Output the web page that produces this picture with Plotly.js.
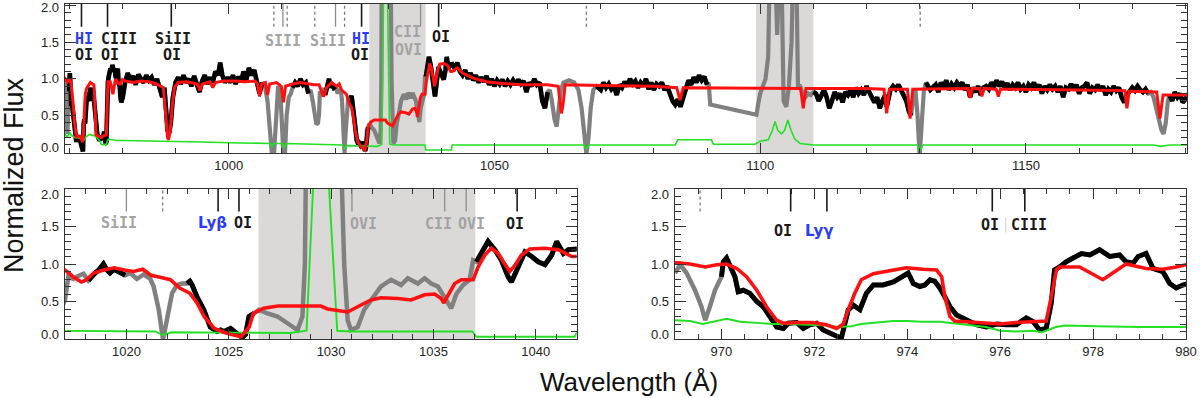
<!DOCTYPE html>
<html><head><meta charset="utf-8">
<script src="https://cdn.plot.ly/plotly-3.0.1.min.js"></script>
<style>html,body{margin:0;padding:0;background:#fff}#chart{width:1200px;height:398px}</style>
</head><body><div id="chart"></div>
<script>
// ---- spectrum (normalized flux) ----
const specWave = [
969.00,969.11,969.25,969.43,969.57,969.65,969.75,969.86,970.00,970.04,970.11,970.22,970.29,970.36,970.47,970.61,970.76,970.90,
971.04,971.19,971.33,971.44,971.62,971.76,971.90,972.05,972.19,972.33,972.48,972.58,972.73,972.84,972.98,973.12,973.27,973.48,
973.70,973.91,974.02,974.13,974.27,974.38,974.49,974.59,974.70,974.81,974.92,975.06,975.27,975.49,975.70,975.92,976.13,976.35,
976.56,976.71,976.85,976.99,977.10,977.17,977.28,977.42,977.57,977.75,977.93,978.14,978.36,978.57,978.71,978.86,978.97,979.14,
979.29,979.50,979.65,979.79,979.93,980.05,
980.5,981,981.5,982,982.5,983,983.5,984,984.5,985,985.5,986,986.5,987,987.5,987.9,988.2,988.5,988.8,989.1,989.5,990,990.5,991,
991.5,992,992.5,993,993.5,994,994.5,995,995.5,996,996.5,997,997.5,998,998.4,998.8,999.3,999.8,1000.3,1000.8,1001.3,1001.8,
1002.3,1002.8,1003.3,1003.8,1004.3,1004.8,1005.3,1005.8,1006.3,1006.8,1007.3,1007.7,1008.1,1008.5,1008.9,1009.3,1009.7,1010.0,
1010.3,1010.6,1010.9,1011.3,1011.7,1012.0,1012.5,1013,1013.5,1014,1014.5,1015,1015.4,1015.8,1016.2,1016.5,1016.8,
1017.00,1017.16,1017.40,1017.57,1017.90,1018.14,1018.30,1018.47,1018.65,1018.88,1019.05,1019.20,1019.40,1019.60,1019.80,1019.94,
1020.19,1020.51,1020.84,1021.17,1021.33,1021.58,1021.79,1021.98,1022.23,1022.47,1022.72,1022.96,1023.10,1023.21,1023.45,1023.78,
1024.10,1024.43,1024.60,1024.76,1025.09,1025.41,1025.66,1025.82,1025.99,1026.23,1026.48,1026.89,1027.38,1027.87,1028.19,1028.36,
1028.60,1028.72,1028.78,1030.48,1030.64,1030.81,1030.97,1031.30,1031.62,1032.10,1032.44,1032.93,1033.42,1033.75,1034.24,1034.57,
1034.89,1035.22,1035.55,1035.87,1036.12,1036.45,1036.77,1036.94,1037.10,1037.34,1037.67,1038.00,1038.32,1038.65,1038.81,1039.14,
1039.47,1039.80,1040.12,1040.45,1040.78,1041.02,1041.35,1041.59,1042.05,
1042.5,1043,1043.5,1044,1044.5,1045,1045.5,1046,1046.5,1047,1047.5,1048,1048.5,1049,1049.5,1050,1050.5,1051,1051.5,1052,1052.5,
1053,1053.5,1054,1054.5,1055,1055.5,1056,1056.5,1057,1057.5,1058,1058.5,1059,1059.5,1060,1060.4,1060.8,1061.3,1061.7,1062.1,
1062.5,1063,1064,1065,1065.8,1066.4,1066.9,1067.3,1067.7,1068.1,1068.6,1069.2,1070,1070.5,1071,1071.5,1072,1072.5,1073,1073.5,
1074,1074.5,1075,1075.5,1076,1076.5,1077,1077.5,1078,1078.5,1079,1079.5,1080,1080.5,1081,1081.5,1082,1082.5,1083,1083.5,1084,
1084.5,1085,1085.5,1086,1086.5,1087,1087.5,1088,1088.5,1089,1089.5,1090,1090.3,1090.6,1099.3,1099.6,1100,1100.5,1101,1101.5,
1101.8,1102.8,1103.2,1103.6,1104.0,1104.4,1104.9,1105.4,1105.9,1106.2,1106.8,1107.1,1107.5,1108,1108.5,1109,1109.5,1110,1110.5,
1111,1111.5,1112,1112.5,1113,1113.5,1114,1114.5,1115,1115.5,1116,1116.5,1117,1117.5,1118,1118.5,1119,1119.5,1120,1120.5,1121,
1121.5,1122,1122.5,1123,1123.5,1123.8,1124.5,1125,1125.5,1126,1126.5,1127,1127.5,1128,1128.4,1128.8,1129.2,1129.6,1130.0,1130.4,
1130.8,1131.2,1132,1133,1133.5,1134,1134.5,1135,1135.5,1136,1136.5,1137,1137.5,1138,1138.5,1139,1139.5,1140,1140.5,1141,1141.5,
1142,1142.5,1143,1143.5,1144,1144.5,1145,1145.5,1146,1146.5,1147,1147.5,1148,1148.5,1149,1149.5,1150,1150.5,1151,1151.5,1152,
1152.5,1153,1153.5,1154,1154.5,1155,1155.5,1156,1156.5,1157,1157.5,1158,1158.5,1159,1159.5,1160,1160.5,1161,1161.5,1162,1162.5,
1163,1163.5,1164,1164.5,1165,1165.5,1166,1166.5,1167,1167.5,1168,1168.5,1169,1169.5,1170,1170.5,1171,1171.5,1172,1172.5,1173,
1173.5,1174,1174.5,1175,1175.5,1175.9,1176.3,1176.7,1177,1177.5,1178,1178.5,1179,1179.5,1180,1180.5
];
const specFlux = [
0.88,0.99,0.88,0.65,0.43,0.25,0.43,0.65,0.83,1.03,1.08,0.92,0.83,0.63,0.65,0.61,0.50,0.43,
0.30,0.16,0.14,0.21,0.22,0.14,0.19,0.21,0.12,0.08,0.05,0.01,0.39,0.45,0.39,0.61,0.72,0.72,
0.76,0.83,0.88,0.74,0.70,0.72,0.79,0.77,0.68,0.56,0.43,0.32,0.25,0.19,0.16,0.20,0.19,0.19,
0.28,0.23,0.12,0.14,0.48,0.92,0.96,1.03,1.08,1.14,1.12,1.19,1.10,1.12,1.03,1.01,1.10,1.14,
0.94,0.90,0.74,0.68,0.72,0.74,
0.95,1.08,0.98,1.04,0.92,1.06,1.00,0.95,1.05,0.98,1.02,0.92,1.00,0.85,0.75,0.88,0.55,0.30,0.26,0.40,0.75,0.95,1.02,0.93,
1.05,0.95,1.00,0.90,1.04,0.92,0.82,0.97,1.05,0.93,1.02,0.95,1.10,1.05,1.22,1.05,0.95,1.02,0.95,1.05,0.93,1.03,
0.96,1.10,0.98,1.15,1.05,1.12,0.95,0.80,0.95,0.90,0.70,0.30,0.00,-0.05,0.40,0.90,0.85,0.40,
-0.05,0.00,0.50,0.75,0.80,0.88,0.95,0.90,1.00,0.92,0.95,0.80,0.85,0.70,0.45,0.38,0.40,
0.52,0.83,0.80,0.83,0.87,0.78,0.84,0.88,0.92,1.00,0.92,0.88,0.93,0.90,0.87,0.85,
0.88,0.80,0.86,0.80,0.70,0.39,-0.01,0.25,0.61,0.72,0.74,0.74,0.77,0.72,0.56,0.39,
0.16,0.10,0.12,0.10,0.14,0.07,0.02,0.06,0.30,0.34,0.39,0.34,0.30,0.21,0.16,0.12,
0.30,1.00,2.50,2.50,1.00,0.25,0.12,0.16,0.39,0.56,0.70,0.79,0.72,0.81,0.74,0.81,
0.74,0.70,0.56,0.41,0.60,0.72,0.79,1.05,1.03,1.14,1.30,1.19,1.05,0.83,0.76,0.96,
1.16,1.10,1.03,0.99,1.12,1.30,1.14,1.19,1.20,
1.15,1.22,1.10,1.05,1.12,1.00,1.08,0.98,1.05,0.95,1.02,0.96,1.04,0.92,1.00,0.90,0.98,0.93,0.99,0.90,0.97,
0.92,0.98,0.92,0.99,0.93,0.97,0.82,0.95,0.90,1.00,0.92,0.95,0.70,0.60,0.82,0.85,0.70,0.45,0.35,0.60,
0.85,0.95,0.98,0.95,0.85,0.60,0.20,-0.02,0.20,0.60,0.85,0.90,0.85,0.95,0.88,0.93,0.86,0.90,0.78,0.92,
0.88,0.96,0.90,1.00,0.93,0.97,0.88,0.95,0.90,1.00,0.86,0.95,0.85,0.93,0.90,0.95,0.85,0.90,0.80,0.70,0.65,
0.72,0.62,0.75,0.88,0.98,0.92,1.02,0.95,1.05,0.98,1.03,0.92,0.95,0.65,0.51,0.65,0.80,0.90,1.00,1.30,
2.50,2.50,1.60,2.50,2.50,0.70,0.62,0.90,1.50,2.50,2.50,0.90,0.90,0.80,0.75,0.80,0.78,0.82,0.80,
0.70,0.78,0.85,0.75,0.60,0.70,0.82,0.75,0.80,0.68,0.82,0.78,0.85,0.75,0.88,0.80,0.85,0.78,0.90,0.82,0.75,
0.68,0.75,0.60,0.70,0.78,0.62,0.85,0.90,0.86,0.92,0.85,0.80,0.70,0.55,0.50,0.75,0.85,0.50,-0.05,0.40,
0.85,0.95,0.85,0.92,0.82,0.95,0.88,0.98,0.85,0.93,0.88,0.95,0.90,0.95,0.85,0.92,0.75,0.88,0.82,0.90,0.78,
0.88,0.90,0.86,0.95,0.90,0.98,0.90,0.96,0.88,0.94,0.85,0.92,0.88,0.95,0.86,0.90,0.82,0.92,0.88,0.95,0.86,
0.92,0.80,0.90,0.85,0.92,0.86,0.90,0.82,0.90,0.75,0.88,0.86,0.93,0.85,0.92,0.80,0.88,0.90,0.95,0.80,0.88,
0.85,0.92,0.84,0.90,0.78,0.86,0.82,0.90,0.84,0.88,0.75,0.68,0.78,0.84,0.88,0.84,0.90,0.85,0.82,0.86,0.80,
0.82,0.75,0.60,0.42,0.30,0.25,0.40,0.70,0.78,0.70,0.82,0.75,0.80,0.68,0.72,0.80
];
// wavelength intervals where the data are masked (drawn grey)
const maskStart = [968.9, 1006.6, 1015.3, 1020.1, 1026.4, 1060.3, 1090.1, 1128.6, 1173.3];
const maskEnd   = [969.99, 1011.9, 1018.05, 1022.9, 1037.05, 1068.9, 1109.9, 1131.0, 1176.9];

// ---- model (red) ----
const modelWave = [
969.00,969.32,969.65,969.90,970.11,970.33,970.54,970.76,970.97,971.19,971.33,971.62,971.97,972.26,972.48,972.62,972.73,972.87,
973.01,973.27,973.62,973.98,974.34,974.63,974.74,974.81,974.92,975.02,975.27,975.63,975.99,976.35,976.71,976.99,977.10,977.21,
977.28,977.71,978.21,978.71,979.14,979.50,979.79,980.00,
980.5,982,983.5,985,986.4,987.2,987.7,988.1,988.5,988.7,989.0,989.4,989.8,990.5,992,993.5,994.2,994.6,995,996.5,997.0,997.5,
999,1001,1003,1005,1005.4,1005.8,1006.2,1006.9,1007.3,1007.7,1009,1009.9,1010.3,1010.7,1012,1013.5,1015,1016.0,
1017.0,1017.4,1017.8,1018.0,1018.4,1018.9,1019.4,1019.9,1020.35,1020.8,1021.2,1021.7,1022.15,1022.6,1023.1,1023.45,1023.8,
1024.3,1024.9,1025.6,1026.0,1026.2,1026.7,1027.4,1028.0,1028.5,1029.5,1029.83,1030.15,1030.81,1031.3,1031.95,1032.44,1033.26,
1033.91,1034.57,1035.06,1035.38,1035.5,1035.71,1036.04,1036.36,1036.94,1037.18,1037.51,1037.83,1038.16,1038.49,1038.73,1038.98,
1039.3,1039.71,1040.45,1041.1,1041.76,1042.05,
1043,1044,1046,1048.5,1051,1055,1060,1062.0,1062.4,1062.6,1062.9,1063.3,1070,1080,1084.3,1084.9,1085.5,1095,1107.6,1108.1,
1108.6,1120,1123.3,1123.8,1124.3,1127.7,1128.2,1128.7,1139.1,1139.5,1139.9,1141.3,1141.7,1142.1,1144.4,1144.8,1145.2,1160,
1168.6,1169.0,1169.4,1174.6,1175.2,1175.8,1180.5
];
const modelFlux = [
1.02,1.00,0.96,0.99,1.00,0.94,0.83,0.65,0.43,0.25,0.21,0.22,0.22,0.19,0.14,0.20,0.39,0.61,
0.79,0.87,0.91,0.95,0.93,0.92,0.83,0.56,0.30,0.24,0.23,0.21,0.20,0.22,0.23,0.24,0.56,0.92,
0.96,0.96,0.79,1.00,0.94,0.93,0.96,0.99,
0.97,0.95,0.97,0.96,0.93,0.90,0.88,0.55,0.20,0.17,0.30,0.65,0.88,0.95,0.96,0.94,0.92,0.84,0.93,0.96,0.88,0.95,
0.97,0.97,0.96,0.97,0.93,0.76,0.93,0.95,0.78,0.93,0.95,0.90,0.68,0.90,0.93,0.95,0.93,0.92,
0.92,0.83,0.76,0.78,0.88,0.92,0.95,0.92,0.90,0.93,0.85,0.82,0.79,0.68,0.61,0.48,0.30,
0.14,0.075,0.03,0.16,0.34,0.41,0.44,0.44,0.44,0.44,0.40,0.39,0.36,0.43,0.52,0.55,0.54,
0.52,0.59,0.60,0.54,0.48,0.59,0.74,0.79,0.79,0.96,1.12,1.21,1.14,1.00,0.90,0.98,
1.12,1.20,1.21,1.19,1.10,1.10,
1.15,1.08,1.01,0.96,0.94,0.92,0.92,0.90,0.60,0.53,0.65,0.92,0.91,0.90,0.88,0.71,0.88,0.88,0.87,0.60,
0.87,0.87,0.86,0.53,0.86,0.86,0.46,0.86,0.87,0.74,0.87,0.87,0.76,0.87,0.86,0.76,0.86,0.85,
0.84,0.60,0.83,0.82,0.46,0.78,0.78
];

// ---- error spectrum (green) ----
const errWave = [
969.0,969.32,969.6,969.9,970.11,970.4,970.8,971.1,971.5,971.9,972.3,972.5,972.8,973.0,973.3,973.7,974.0,974.3,974.7,975.0,
975.3,975.7,976.0,976.35,976.7,976.9,977.2,977.4,978.1,979.0,980.0,985,990,995,1000,1005,1007.8,1008.1,1008.5,1010.1,1010.4,
1010.8,1015,1017,1021.4,1021.8,1022.2,1025,1028.0,1028.8,1029.2,1029.8,1030.3,1031.0,1036.9,1037.1,1041.9,1042.05,1066.8,
1067.3,1067.8,1084.0,1084.5,1090.8,1091.2,1099.0,1100.0,1101.5,1102.3,1102.8,1103.3,1104.0,1104.6,1105.2,1105.8,1106.5,1107.5,
1110,1129.5,1130.05,1130.6,1174,1175.5,1177,1180.5
];
const errFlux = [
0.25,0.24,0.20,0.24,0.27,0.23,0.21,0.20,0.20,0.19,0.18,0.16,0.17,0.20,0.22,0.24,0.24,0.23,0.23,0.21,
0.19,0.16,0.11,0.10,0.11,0.09,0.16,0.18,0.17,0.16,0.16,0.15,0.14,0.14,0.13,0.12,0.12,0.07,0.12,0.12,0.06,
0.12,0.11,0.11,0.10,0.05,0.09,0.085,0.08,0.11,2.50,2.50,0.11,0.10,0.10,0.03,0.03,0.10,0.10,
0.05,0.10,0.10,0.17,0.17,0.11,0.11,0.15,0.17,0.30,0.42,0.30,0.25,0.30,0.44,0.30,0.18,0.12,
0.10,0.10,0.02,0.10,0.10,0.08,0.10,0.10
];

// shaded (excluded) wavelength ranges
const shadeStart = [1026.45, 1099.2];
const shadeEnd   = [1037.05, 1110.0];

// y tick labels
const yTickVals = [0, 0.5, 1.0, 1.5, 2.0];

// line identifications: k = black, g = grey, d = dotted grey
const topLineWave = [972.3, 977.2, 989.2, 1008.5, 1010.2, 1011.0, 1016.2, 1020.1, 1021.8, 1025.0, 1036.1, 1039.5, 1067.3, 1130.1];
const topLineKind = ['k','k','k','d','g','d','d','g','d','k','g','k','d','d'];
const blLineWave = [1020.0, 1021.77, 1024.48, 1025.5, 1031.02, 1035.55, 1036.6, 1039.09];
const blLineKind = ['g','d','k','k','g','g','g','k'];
const brLineWave = [969.54, 971.49, 972.27, 975.83, 976.53];
const brLineKind = ['d','k','k','k','k'];

// labels: b = blue, k = black, g = grey
const topLabelText = ['HI','OI','CIII','OI','SiII','OI','SIII','SiII','HI','OI','CII','OVI','OI'];
const topLabelWave = [972.7, 972.7, 979.3, 977.6, 989.5, 989.3, 1010.2, 1018.6, 1024.8, 1024.7, 1033.7, 1033.9, 1039.9];
const topLabelFlux = [1.55, 1.33, 1.55, 1.33, 1.55, 1.33, 1.52, 1.52, 1.55, 1.33, 1.64, 1.39, 1.57];
const topLabelKind = ['b','k','k','k','k','k','g','g','b','k','g','g','k'];
const blLabelText = ['SiII','Lyβ','OI','OVI','CII','OVI','OI'];
const blLabelWave = [1019.65, 1024.2, 1025.7, 1031.56, 1035.24, 1036.85, 1039.0];
const blLabelFlux = [1.55, 1.55, 1.55, 1.53, 1.53, 1.53, 1.53];
const blLabelKind = ['g','b','k','g','g','g','k'];
const brLabelText = ['OI','Lyγ','OI','CIII'];
const brLabelWave = [971.32, 972.1, 975.77, 976.63];
const brLabelFlux = [1.44, 1.44, 1.52, 1.52];
const brLabelKind = ['k','b','k','k'];

// ---------------- build ----------------
function masked(w){ for (let i=0;i<maskStart.length;i++){ if (w>maskStart[i] && w<maskEnd[i]) return true; } return false; }
const goodFlux = specFlux.map((f,i)=> masked(specWave[i]) ? null : f);

const panels = [
  {xa:'x', ya:'y', xd:[65/1200, 1187/1200], dw:4.2, bw:4.6, rw:3.0, gw:1.6, lines:[topLineWave,topLineKind], y0:1.71, y1:2.02,
   labels:[topLabelText,topLabelWave,topLabelFlux,topLabelKind], lowShift:5, topShift:-2},
  {xa:'x2', ya:'y2', xd:[65/1200, 576.7/1200], dw:4.5, bw:5.0, rw:3.6, gw:1.9, lines:[blLineWave,blLineKind], y0:1.70, y1:2.0,
   labels:[blLabelText,blLabelWave,blLabelFlux,blLabelKind], lowShift:5, topShift:-5},
  {xa:'x3', ya:'y3', xd:[675/1200, 1186/1200], dw:4.5, bw:5.0, rw:3.6, gw:1.9, lines:[brLineWave,brLineKind], y0:1.70, y1:2.0,
   labels:[brLabelText,brLabelWave,brLabelFlux,brLabelKind], lowShift:5, topShift:-5}
];

const traces = [], shapes = [], annotations = [];
const colMap = {k:'#1a1a1a', g:'#8c8c8c', d:'#7a7a7a'};
const labCol = {k:'#1a1a1a', g:'#a3a3a3', b:'#2a3cf5'};
const tickFont = {family:'Liberation Sans, Arial, sans-serif', size:13, color:'#222'};

panels.forEach(p=>{
  traces.push({x:specWave, y:specFlux, xaxis:p.xa, yaxis:p.ya, mode:'lines', line:{color:'#808080', width:p.dw}, hoverinfo:'skip'});
  traces.push({x:specWave, y:goodFlux, xaxis:p.xa, yaxis:p.ya, mode:'lines', connectgaps:false, line:{color:'#000', width:p.bw}, hoverinfo:'skip'});
  traces.push({x:errWave, y:errFlux, xaxis:p.xa, yaxis:p.ya, mode:'lines', line:{color:'#22e022', width:p.gw}, hoverinfo:'skip'});
  traces.push({x:modelWave, y:modelFlux, xaxis:p.xa, yaxis:p.ya, mode:'lines', line:{color:'#ff1010', width:p.rw}, hoverinfo:'skip'});
  for (let i=0;i<shadeStart.length;i++){
    shapes.push({type:'rect', xref:p.xa, yref:p.ya+' domain', x0:shadeStart[i], x1:shadeEnd[i], y0:0, y1:1,
      fillcolor:'#dbd8d8', line:{width:0}, layer:'below'});
  }
  const [lw, lk] = p.lines;
  lw.forEach((w,i)=>{
    shapes.push({type:'line', xref:p.xa, yref:p.ya, x0:w, x1:w, y0:p.y0, y1:p.y1,
      line:{color:colMap[lk[i]], width:lk[i]==='k'?1.6:1.3, dash:lk[i]==='d'?'dot':'solid'}});
  });
  const [lt, lwv, lf, lkd] = p.labels;
  lt.forEach((t,i)=>{
    const greek = t.startsWith('Ly');
    annotations.push({xref:p.xa, yref:p.ya, x:lwv[i], y:lf[i], text:t, showarrow:false,
      xanchor:'center', yanchor:'middle',
      font:{family: greek ? 'DejaVu Sans, sans-serif' : 'DejaVu Sans Mono, monospace', size:15,
            weight:'bold', color:labCol[lkd[i]]}});
  });
  // y tick labels (end labels nudged inward as in the reference)
  yTickVals.forEach((v,i)=>{
    const ys = i===0 ? p.lowShift : (i===yTickVals.length-1 ? p.topShift : 0);
    annotations.push({xref:'paper', yref:p.ya, x:p.xd[0], y:v, xanchor:'right', yanchor:'middle', xshift:-4, yshift:ys,
      text:v.toFixed(1), showarrow:false, font:tickFont});
  });
});
// thin separator between OI and CIII in lower-right panel
shapes.push({type:'line', xref:'x3', yref:'y3', x0:976.12, x1:976.12, y0:1.42, y1:1.62, line:{color:'#cccccc', width:1}});

annotations.push({xref:'paper', yref:'paper', x:14/1200, y:1-175/398, text:'Normalized Flux', textangle:-90,
  showarrow:false, xanchor:'center', yanchor:'middle', font:{family:'Liberation Sans, Arial, sans-serif', size:27, color:'#111'}});
annotations.push({xref:'paper', yref:'paper', x:629/1200, y:1-382/398, text:'Wavelength (Å)',
  showarrow:false, xanchor:'center', yanchor:'middle', font:{family:'Liberation Sans, Arial, sans-serif', size:26, color:'#111'}});

function xax(domain, range, tick0, dtick, mdtick, anchor){
  return {domain, range, anchor, tick0, dtick, tickmode:'linear', showline:true, mirror:'allticks', linecolor:'#333', linewidth:1,
    ticks:'inside', ticklen:10, tickwidth:1, tickcolor:'#333', showgrid:false, zeroline:false, tickfont:tickFont,
    minor:{ticks:'inside', ticklen:5, tickwidth:1, tickcolor:'#333', dtick:mdtick, tick0:tick0, showgrid:false}, automargin:false, fixedrange:true};
}
function yax(domain, range, anchor){
  return {domain, range, anchor, tick0:0, dtick:0.5, tickmode:'linear', showticklabels:false, showline:true, mirror:'allticks',
    linecolor:'#333', linewidth:1, ticks:'inside', ticklen:11, tickwidth:1, tickcolor:'#333', showgrid:false, zeroline:false,
    minor:{ticks:'inside', ticklen:6, tickwidth:1, tickcolor:'#333', dtick:0.1, tick0:0, showgrid:false},
    automargin:false, fixedrange:true};
}

const layout = {
  width:1200, height:398, margin:{l:0,r:0,t:0,b:0}, paper_bgcolor:'#fff', plot_bgcolor:'rgba(0,0,0,0)', showlegend:false,
  xaxis: xax([65/1200, 1187/1200], [969.2, 1180.3], 1000, 50, 10, 'y'),
  yaxis: yax([1-153/398, 1-4/398], [-0.01, 2.02], 'x'),
  xaxis2: xax([65/1200, 576.7/1200], [1017, 1042], 1020, 5, 1, 'y2'),
  yaxis2: yax([1-339/398, 1-189/398], [0, 2.0], 'x2'),
  xaxis3: xax([675/1200, 1186/1200], [969, 980], 970, 2, 0.5, 'y3'),
  yaxis3: yax([1-339/398, 1-189/398], [0, 2.0], 'x3'),
  shapes, annotations
};
Plotly.newPlot('chart', traces, layout, {staticPlot:true, displayModeBar:false});
</script></body></html>
